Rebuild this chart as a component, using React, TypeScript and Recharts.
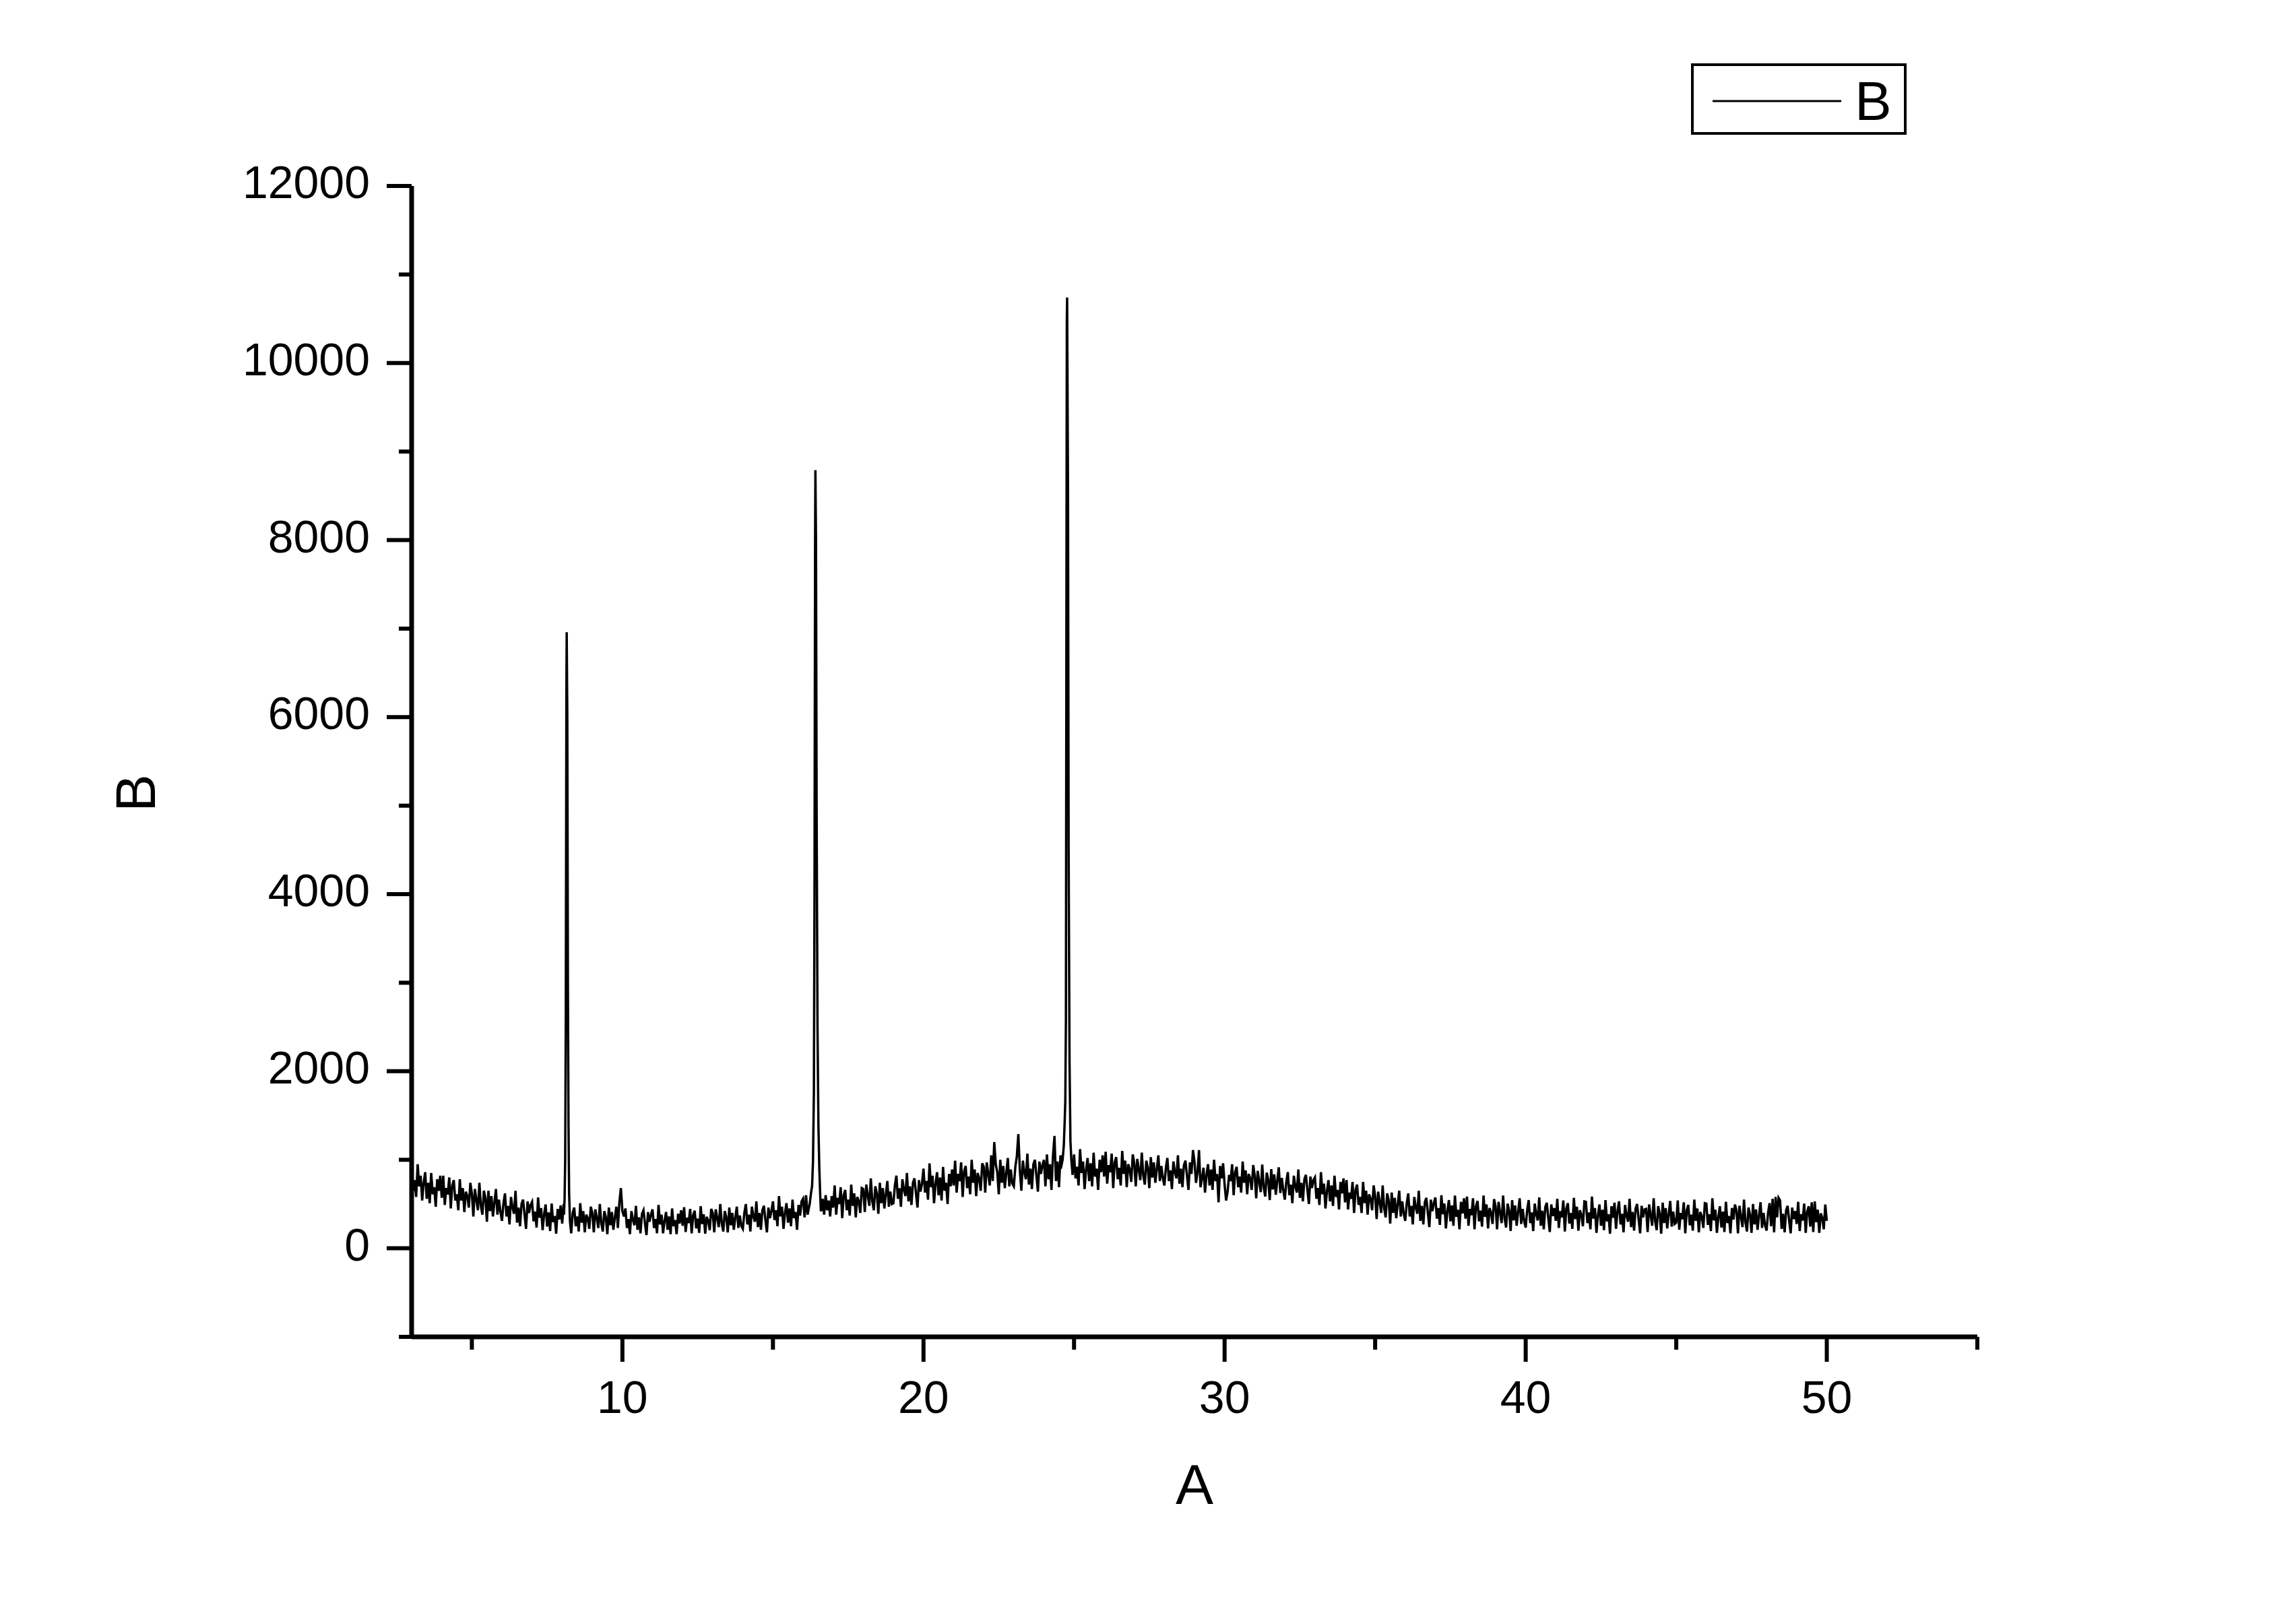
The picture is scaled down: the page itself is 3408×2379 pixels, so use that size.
import React from "react";
import { LineChart, Line, XAxis, YAxis, Legend } from "recharts";

// scan grid: intensities every 0.05 from 3.00 to 50.00 (one row per degree)
const scanStart = 3;
const scanStep = 0.05;

const counts3to10 = [
  890, 650, 770, 580, 950, 700, 820, 540, 740, 860, 560, 740, 510, 850, 610, 690, 470, 780, 650, 820,
  570, 820, 490, 680, 610, 800, 450, 710, 770, 540, 610, 430, 780, 540, 680, 410, 640, 590, 460, 740,
  620, 360, 670, 550, 430, 740, 480, 380, 650, 570, 300, 650, 420, 590, 360, 520, 670, 380, 550, 410,
  310, 510, 620, 360, 480, 270, 580, 460, 390, 650, 290, 460, 250, 500, 550, 380, 220, 530, 400, 490,
  525, 305, 415, 235, 575, 345, 455, 205, 385, 495, 245, 405, 195, 505, 295, 365, 165, 445, 325, 485,
  280, 500, 200, 370, 310, 480, 170, 400, 460, 250, 360, 190, 510, 290, 420, 180, 380, 340, 220, 470,
  400, 180, 440, 340, 230, 500, 280, 190, 420, 350, 160, 460, 260, 410, 210, 350, 470, 230, 520, 680,
];

const counts10to20 = [
  420, 360, 450, 230, 330, 160, 420, 320, 260, 480, 210, 350, 170, 390, 430, 280, 150, 410, 300, 380,
  440, 230, 330, 170, 490, 270, 380, 170, 310, 410, 210, 360, 160, 450, 250, 320, 160, 390, 280, 430,
  255, 465, 185, 345, 285, 445, 170, 375, 425, 225, 335, 175, 475, 275, 385, 165, 355, 315, 205, 445,
  400, 180, 440, 340, 240, 500, 280, 190, 420, 350, 180, 460, 260, 400, 210, 350, 470, 230, 370, 250,
  220, 400, 500, 270, 380, 190, 470, 360, 300, 530, 240, 400, 210, 430, 480, 320, 180, 460, 340, 420,
  530, 320, 430, 250, 590, 360, 470, 220, 400, 510, 290, 450, 250, 550, 340, 410, 210, 490, 370, 530,
  560, 350, 600, 380, 470, 450, 480, 500, 470, 430, 460, 470, 420, 560, 380, 600, 430, 540, 360, 590,
  460, 710, 380, 570, 500, 690, 340, 600, 660, 430, 550, 370, 720, 480, 620, 350, 580, 530, 400, 680,
  670, 410, 720, 600, 480, 790, 530, 430, 700, 620, 390, 740, 510, 680, 450, 610, 760, 470, 640, 500,
  510, 710, 820, 560, 680, 470, 780, 660, 590, 850, 530, 700, 490, 740, 790, 620, 460, 770, 640, 730,
];

const counts20to30 = [
  900, 630, 760, 550, 960, 690, 820, 510, 730, 860, 600, 800, 540, 920, 650, 740, 500, 840, 700, 890,
  710, 990, 630, 840, 760, 970, 580, 870, 930, 680, 810, 610, 1000, 740, 890, 590, 850, 790, 650, 960,
  920, 630, 970, 840, 710, 1050, 760, 1200, 950, 860, 610, 1000, 740, 930, 680, 850, 1020, 700, 890, 730,
  700, 920, 1040, 1290, 880, 650, 990, 860, 780, 1070, 720, 900, 670, 950, 1000, 820, 640, 980, 840, 940,
  1000, 700, 1060, 780, 950, 660, 1040, 1270, 760, 980, 690, 1050, 900, 900, 900, 900, 900, 900, 900, 830,
  1060, 790, 920, 710, 1120, 850, 980, 670, 890, 1020, 760, 960, 700, 1080, 810, 900, 660, 1000, 860, 1050,
  810, 1090, 730, 940, 860, 1070, 680, 970, 1030, 780, 910, 710, 1100, 840, 990, 690, 950, 890, 750, 1060,
  960, 700, 1010, 890, 770, 1080, 820, 720, 990, 910, 680, 1030, 800, 970, 740, 900, 1050, 760, 930, 790,
  710, 910, 1020, 760, 880, 670, 980, 860, 790, 1050, 730, 900, 690, 940, 990, 820, 660, 970, 840, 1110,
  980, 740, 860, 1110, 690, 790, 910, 630, 830, 950, 710, 890, 660, 1000, 760, 840, 520, 930, 790, 960,
];

const counts30to40 = [
  720, 540, 640, 830, 760, 950, 600, 860, 920, 690, 810, 630, 980, 740, 880, 610, 840, 790, 660, 940,
  825, 565, 875, 755, 635, 945, 685, 585, 855, 775, 545, 895, 665, 835, 605, 765, 915, 625, 795, 655,
  550, 750, 860, 600, 720, 510, 820, 700, 630, 890, 570, 740, 530, 780, 830, 660, 500, 810, 680, 770,
  800, 560, 680, 490, 860, 610, 730, 450, 650, 770, 530, 710, 480, 820, 580, 660, 440, 750, 620, 790,
  520, 770, 440, 630, 560, 750, 400, 660, 720, 490, 580, 400, 750, 510, 650, 380, 610, 560, 430, 710,
  590, 330, 640, 520, 400, 710, 450, 350, 620, 540, 280, 630, 400, 570, 340, 500, 650, 360, 530, 390,
  310, 510, 620, 360, 480, 270, 580, 460, 390, 650, 310, 480, 270, 520, 570, 400, 240, 550, 420, 510,
  575, 335, 455, 265, 600, 385, 505, 225, 425, 545, 305, 485, 255, 595, 355, 435, 215, 525, 395, 565,
  335, 585, 255, 445, 375, 565, 215, 475, 535, 305, 425, 245, 595, 355, 495, 225, 455, 405, 275, 555,
  475, 215, 525, 405, 285, 595, 335, 235, 505, 425, 195, 545, 315, 485, 255, 415, 565, 275, 445, 305,
];

const counts40to50 = [
  235, 435, 545, 285, 405, 195, 505, 385, 315, 575, 255, 425, 215, 465, 515, 345, 185, 495, 365, 455,
  310, 560, 230, 420, 350, 540, 190, 450, 510, 280, 400, 220, 570, 330, 470, 200, 430, 380, 250, 530,
  525, 285, 405, 215, 585, 335, 455, 175, 375, 495, 255, 435, 205, 545, 305, 385, 165, 475, 345, 515,
  220, 420, 530, 270, 390, 180, 490, 370, 300, 560, 240, 410, 200, 450, 500, 330, 170, 480, 350, 440,
  445, 185, 495, 375, 255, 565, 305, 205, 475, 395, 165, 515, 285, 455, 225, 385, 535, 245, 415, 275,
  290, 540, 210, 400, 330, 520, 170, 430, 490, 260, 380, 200, 550, 310, 450, 180, 410, 360, 230, 510,
  505, 265, 385, 195, 565, 315, 435, 175, 355, 475, 235, 415, 185, 525, 285, 365, 170, 455, 325, 495,
  430, 170, 480, 360, 240, 550, 290, 190, 460, 380, 175, 500, 270, 440, 210, 370, 520, 230, 400, 260,
  200, 400, 510, 250, 560, 180, 580, 350, 570, 540, 220, 390, 180, 430, 480, 310, 170, 460, 330, 420,
  275, 525, 195, 385, 315, 505, 175, 415, 475, 245, 520, 185, 530, 295, 435, 175, 395, 345, 215, 495,
  310,
];

// sharp reflections, read at finer steps
const peak8 = [
  [8.06, 380], [8.08, 560], [8.1, 1000], [8.12, 2600], [8.14, 6300], [8.15, 6960],
  [8.17, 6000], [8.19, 3000], [8.21, 1380], [8.23, 620], [8.26, 300],
];
const peak16 = [
  [16.22, 500], [16.27, 640], [16.3, 700], [16.33, 980], [16.36, 1770], [16.38, 4000], [16.4, 8000],
  [16.41, 8790], [16.43, 8000], [16.45, 5000], [16.48, 2500], [16.51, 1390], [16.54, 900], [16.57, 600], [16.59, 430],
];
const peak24 = [
  [24.56, 900], [24.62, 1000], [24.66, 1160], [24.69, 1440], [24.71, 1670], [24.73, 2580],
  [24.75, 8000], [24.76, 10490], [24.77, 10740], [24.78, 10000], [24.8, 8500], [24.82, 4500],
  [24.85, 2110], [24.88, 1210], [24.91, 1000], [24.94, 880],
];

const xTicks = [5, 10, 15, 20, 25, 30, 35, 40, 45, 50, 55];
const yTicks = [-1000, 0, 1000, 2000, 3000, 4000, 5000, 6000, 7000, 8000, 9000, 10000, 11000, 12000];

const peaks = [peak8, peak16, peak24];
const grid = [...counts3to10, ...counts10to20, ...counts20to30, ...counts30to40, ...counts40to50].map((y, i) => ({
  x: Math.round((scanStart + i * scanStep) * 100) / 100,
  y,
}));
const data = grid
  .filter((p) => !peaks.some((pk) => p.x > pk[0][0] && p.x < pk[pk.length - 1][0]))
  .concat(peaks.flatMap((pk) => pk.map(([x, y]) => ({ x, y }))))
  .sort((a, b) => a.x - b.x);

const W = 3408;
const H = 2379;
const PLOT_LEFT = 611;
const PLOT_TOP = 276;
const PLOT_RIGHT = 2935;
const PLOT_BOTTOM = 1984;
const FONT = "'Liberation Sans', Arial, sans-serif";

function XTick(props: any) {
  const { x, y, payload } = props;
  const major = payload.value % 10 === 0;
  return (
    <g>
      <line x1={x} x2={x} y1={y} y2={y + (major ? 37 : 19)} stroke="#000" strokeWidth={6} />
      {major && (
        <text x={x} y={y + 113} textAnchor="middle" fontSize={68} fontFamily={FONT} fill="#000">
          {payload.value}
        </text>
      )}
    </g>
  );
}

function YTick(props: any) {
  const { x, y, payload } = props;
  const major = payload.value % 2000 === 0;
  return (
    <g>
      <line x1={x} x2={x - (major ? 37 : 19)} y1={y} y2={y} stroke="#000" strokeWidth={6} />
      {major && (
        <text x={x - 62} y={y + 18} textAnchor="end" fontSize={68} fontFamily={FONT} fill="#000">
          {payload.value}
        </text>
      )}
    </g>
  );
}

const XTitle = () => (
  <text x={(PLOT_LEFT + PLOT_RIGHT) / 2} y={PLOT_BOTTOM + 248} textAnchor="middle" fontSize={84} fontFamily={FONT} fill="#000">
    A
  </text>
);

const YTitle = () => (
  <text x={230} y={1177} transform="rotate(-90 230 1177)" textAnchor="middle" fontSize={84} fontFamily={FONT} fill="#000">
    B
  </text>
);

const LegendBox = () => (
  <svg width={320} height={106}>
    <rect x={2} y={2} width={316} height={102} fill="#fff" stroke="#000" strokeWidth={4} />
    <line x1={32} x2={223} y1={56} y2={56} stroke="#000" strokeWidth={3} />
    <text x={243} y={84} fontSize={82} fontFamily={FONT} fill="#000">
      B
    </text>
  </svg>
);

export default function App() {
  return (
    <div style={{ position: "absolute", left: 0, top: 0, width: W, height: H, background: "#fff" }}>
      <LineChart
        width={W}
        height={H}
        data={data}
        margin={{ top: PLOT_TOP, right: W - PLOT_RIGHT, bottom: H - PLOT_BOTTOM - 1, left: PLOT_LEFT - 1 }}
      >
        <XAxis
          type="number"
          dataKey="x"
          domain={[3, 55]}
          ticks={xTicks}
          interval={0}
          height={1}
          tickSize={0}
          tickMargin={0}
          tickLine={false}
          tick={<XTick />}
          axisLine={{ stroke: "#000", strokeWidth: 7 }}
          allowDataOverflow
          label={<XTitle />}
        />
        <YAxis
          type="number"
          domain={[-1000, 12000]}
          ticks={yTicks}
          interval={0}
          width={1}
          tickSize={0}
          tickMargin={0}
          tickLine={false}
          tick={<YTick />}
          axisLine={{ stroke: "#000", strokeWidth: 7 }}
          allowDataOverflow
          label={<YTitle />}
        />
        <Legend
          layout="horizontal"
          verticalAlign="middle"
          align="center"
          wrapperStyle={{ left: 2510, top: 94, width: 320, height: 106 }}
          content={<LegendBox />}
        />
        <Line
          type="linear"
          dataKey="y"
          name="B"
          stroke="#000"
          strokeWidth={3.5}
          dot={false}
          activeDot={false}
          isAnimationActive={false}
        />
      </LineChart>
    </div>
  );
}
